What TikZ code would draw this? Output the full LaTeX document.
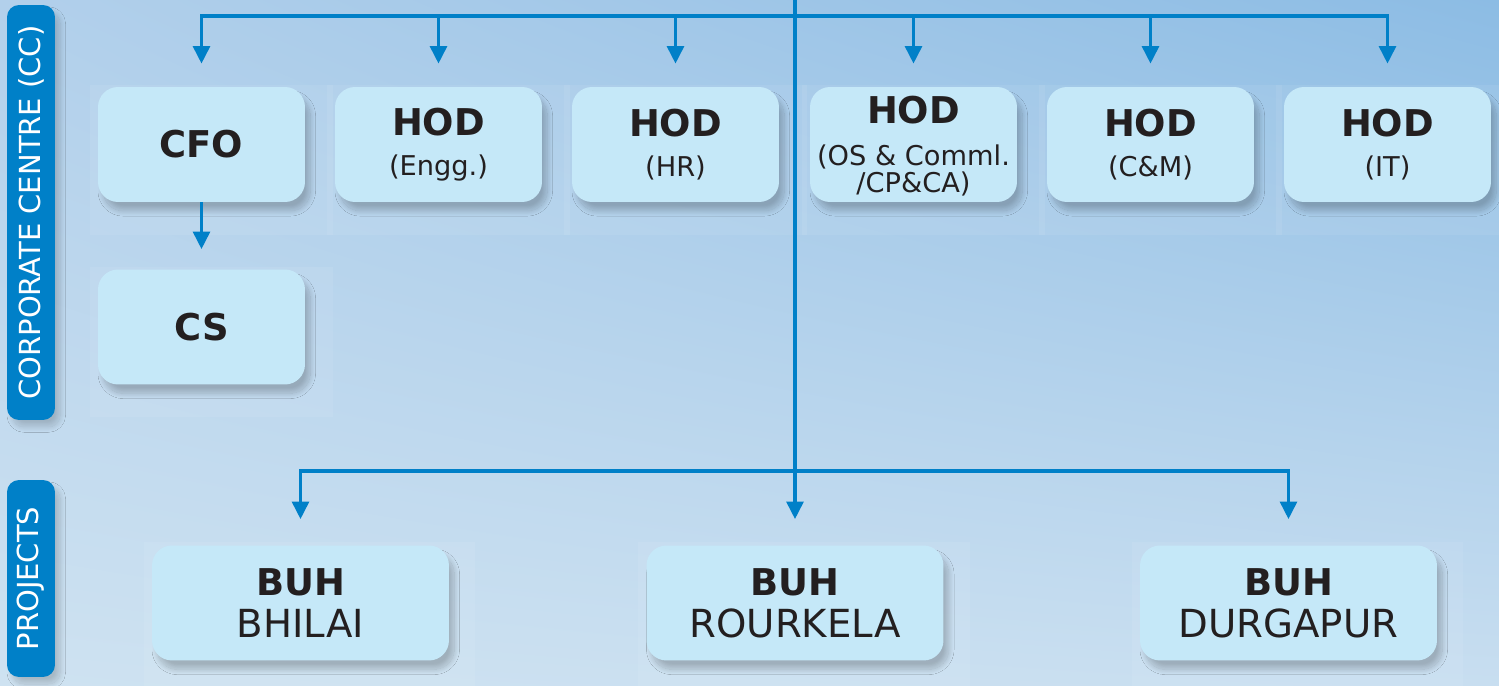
\documentclass[tikz,border=0pt]{standalone}
\usepackage{fontspec}
\setmainfont{DejaVu Sans}
\usetikzlibrary{arrows.meta,shadows.blur,backgrounds,shadings}

\definecolor{sailblue}{RGB}{0,128,200}
\definecolor{boxfill}{RGB}{197,232,248}
\definecolor{ink}{RGB}{35,31,32}
\definecolor{skyUL}{RGB}{178,208,235}
\definecolor{skyUR}{RGB}{140,188,228}
\definecolor{skyLL}{RGB}{206,226,241}
\definecolor{skyLR}{RGB}{200,222,240}

\newcommand\boss[1]{{\bfseries\fontsize{21}{15}\selectfont #1}}

\tikzset{
  post/.style={fill=boxfill, rounded corners=0.4cm, minimum width=4.14cm,
    minimum height=2.3cm, align=center, text=ink, inner sep=0pt,
    font=\fontsize{15.5}{15.5}\selectfont,
    blur shadow={shadow xshift=3pt, shadow yshift=-5pt, shadow opacity=22,
      shadow blur radius=3pt, shadow blur steps=20}},
  unit/.style={post, minimum width=5.94cm, font=\fontsize{22}{24}\selectfont},
  bar/.style={fill=sailblue, rounded corners=0.24cm, rotate=90, minimum height=0.96cm,
    text=white, inner sep=0pt, font=\fontsize{16.5}{18}\selectfont,
    blur shadow={shadow xshift=3pt, shadow yshift=-4pt, shadow opacity=18,
      shadow blur radius=3pt, shadow blur steps=20}},
  panel/.style={fill=white, opacity=0.07},
  link/.style={draw=sailblue, line width=2.1pt},
}

\begin{document}
\begin{tikzpicture}[x=0.02cm, y=-0.02cm, >={Triangle[length=10pt,width=9.5pt]}]
\useasboundingbox (0,0) rectangle (1499,686);

% side bars
\node[bar, minimum width=8.3cm] (cc) at (31,212.5) {CORPORATE CENTRE (CC)};
\node[bar, minimum width=3.94cm] (proj) at (31,578.5) {PROJECTS};

% corporate centre
\node[post] (cfo) at (201.5,144.5) {\boss{CFO}};
\node[post] (engg) at (438.5,144.5) {\boss{HOD}\\[7.5pt](Engg.)};
\node[post] (hr) at (675.5,144.5) {\boss{HOD}\\[7.5pt](HR)};
\node[post, text depth=0pt] (os) at (913.5,144.5) {\boss{HOD}\\[8pt](OS \& Comml.\\/CP\&CA)};
\node[post] (cm) at (1150.5,144.5) {\boss{HOD}\\[7.5pt](C\&M)};
\node[post] (it) at (1387.5,144.5) {\boss{HOD}\\[7.5pt](IT)};
\node[post] (cs) at (201.5,327) {\boss{CS}};

% projects
\node[unit] (bhilai) at (300.5,603) {\boss{BUH}\\[0pt]BHILAI};
\node[unit] (rourkela) at (795,603) {\boss{BUH}\\[0pt]ROURKELA};
\node[unit] (durgapur) at (1288.5,603) {\boss{BUH}\\[0pt]DURGAPUR};

\begin{scope}[on background layer]
  \shade[upper left=skyUL, upper right=skyUR, lower left=skyLL, lower right=skyLR]
    (0,0) rectangle (1499,686);
  \foreach \n in {cfo,engg,hr,os,cm,it}
    \fill[panel] ([xshift=-0.16cm,yshift=0.04cm]\n.north west) rectangle ([xshift=0.56cm,yshift=-0.66cm]\n.south east);
  \fill[panel] ([xshift=-0.16cm,yshift=0.04cm]cs.north west) rectangle ([xshift=0.56cm,yshift=-0.64cm]cs.south east);
  \foreach \n in {bhilai,rourkela,durgapur}
    \fill[panel] ([xshift=-0.16cm,yshift=0.06cm]\n.north west) rectangle ([xshift=0.52cm,yshift=-0.6cm]\n.south east);
\end{scope}

% connectors
\coordinate (top) at (795,0);
\coordinate (bus) at (795,16);
\coordinate (pbus) at (795,471);
\draw[link,->,shorten >=0.52cm] (top) -- (rourkela.north);
\foreach \n in {cfo,engg,hr,os,cm,it}
  \draw[link,->,shorten >=0.46cm] (bus) -| (\n.north);
\foreach \n in {bhilai,durgapur}
  \draw[link,->,shorten >=0.52cm] (pbus) -| (\n.north);
\draw[link,->,shorten >=0.4cm] (cfo) -- (cs);
\end{tikzpicture}
\end{document}
